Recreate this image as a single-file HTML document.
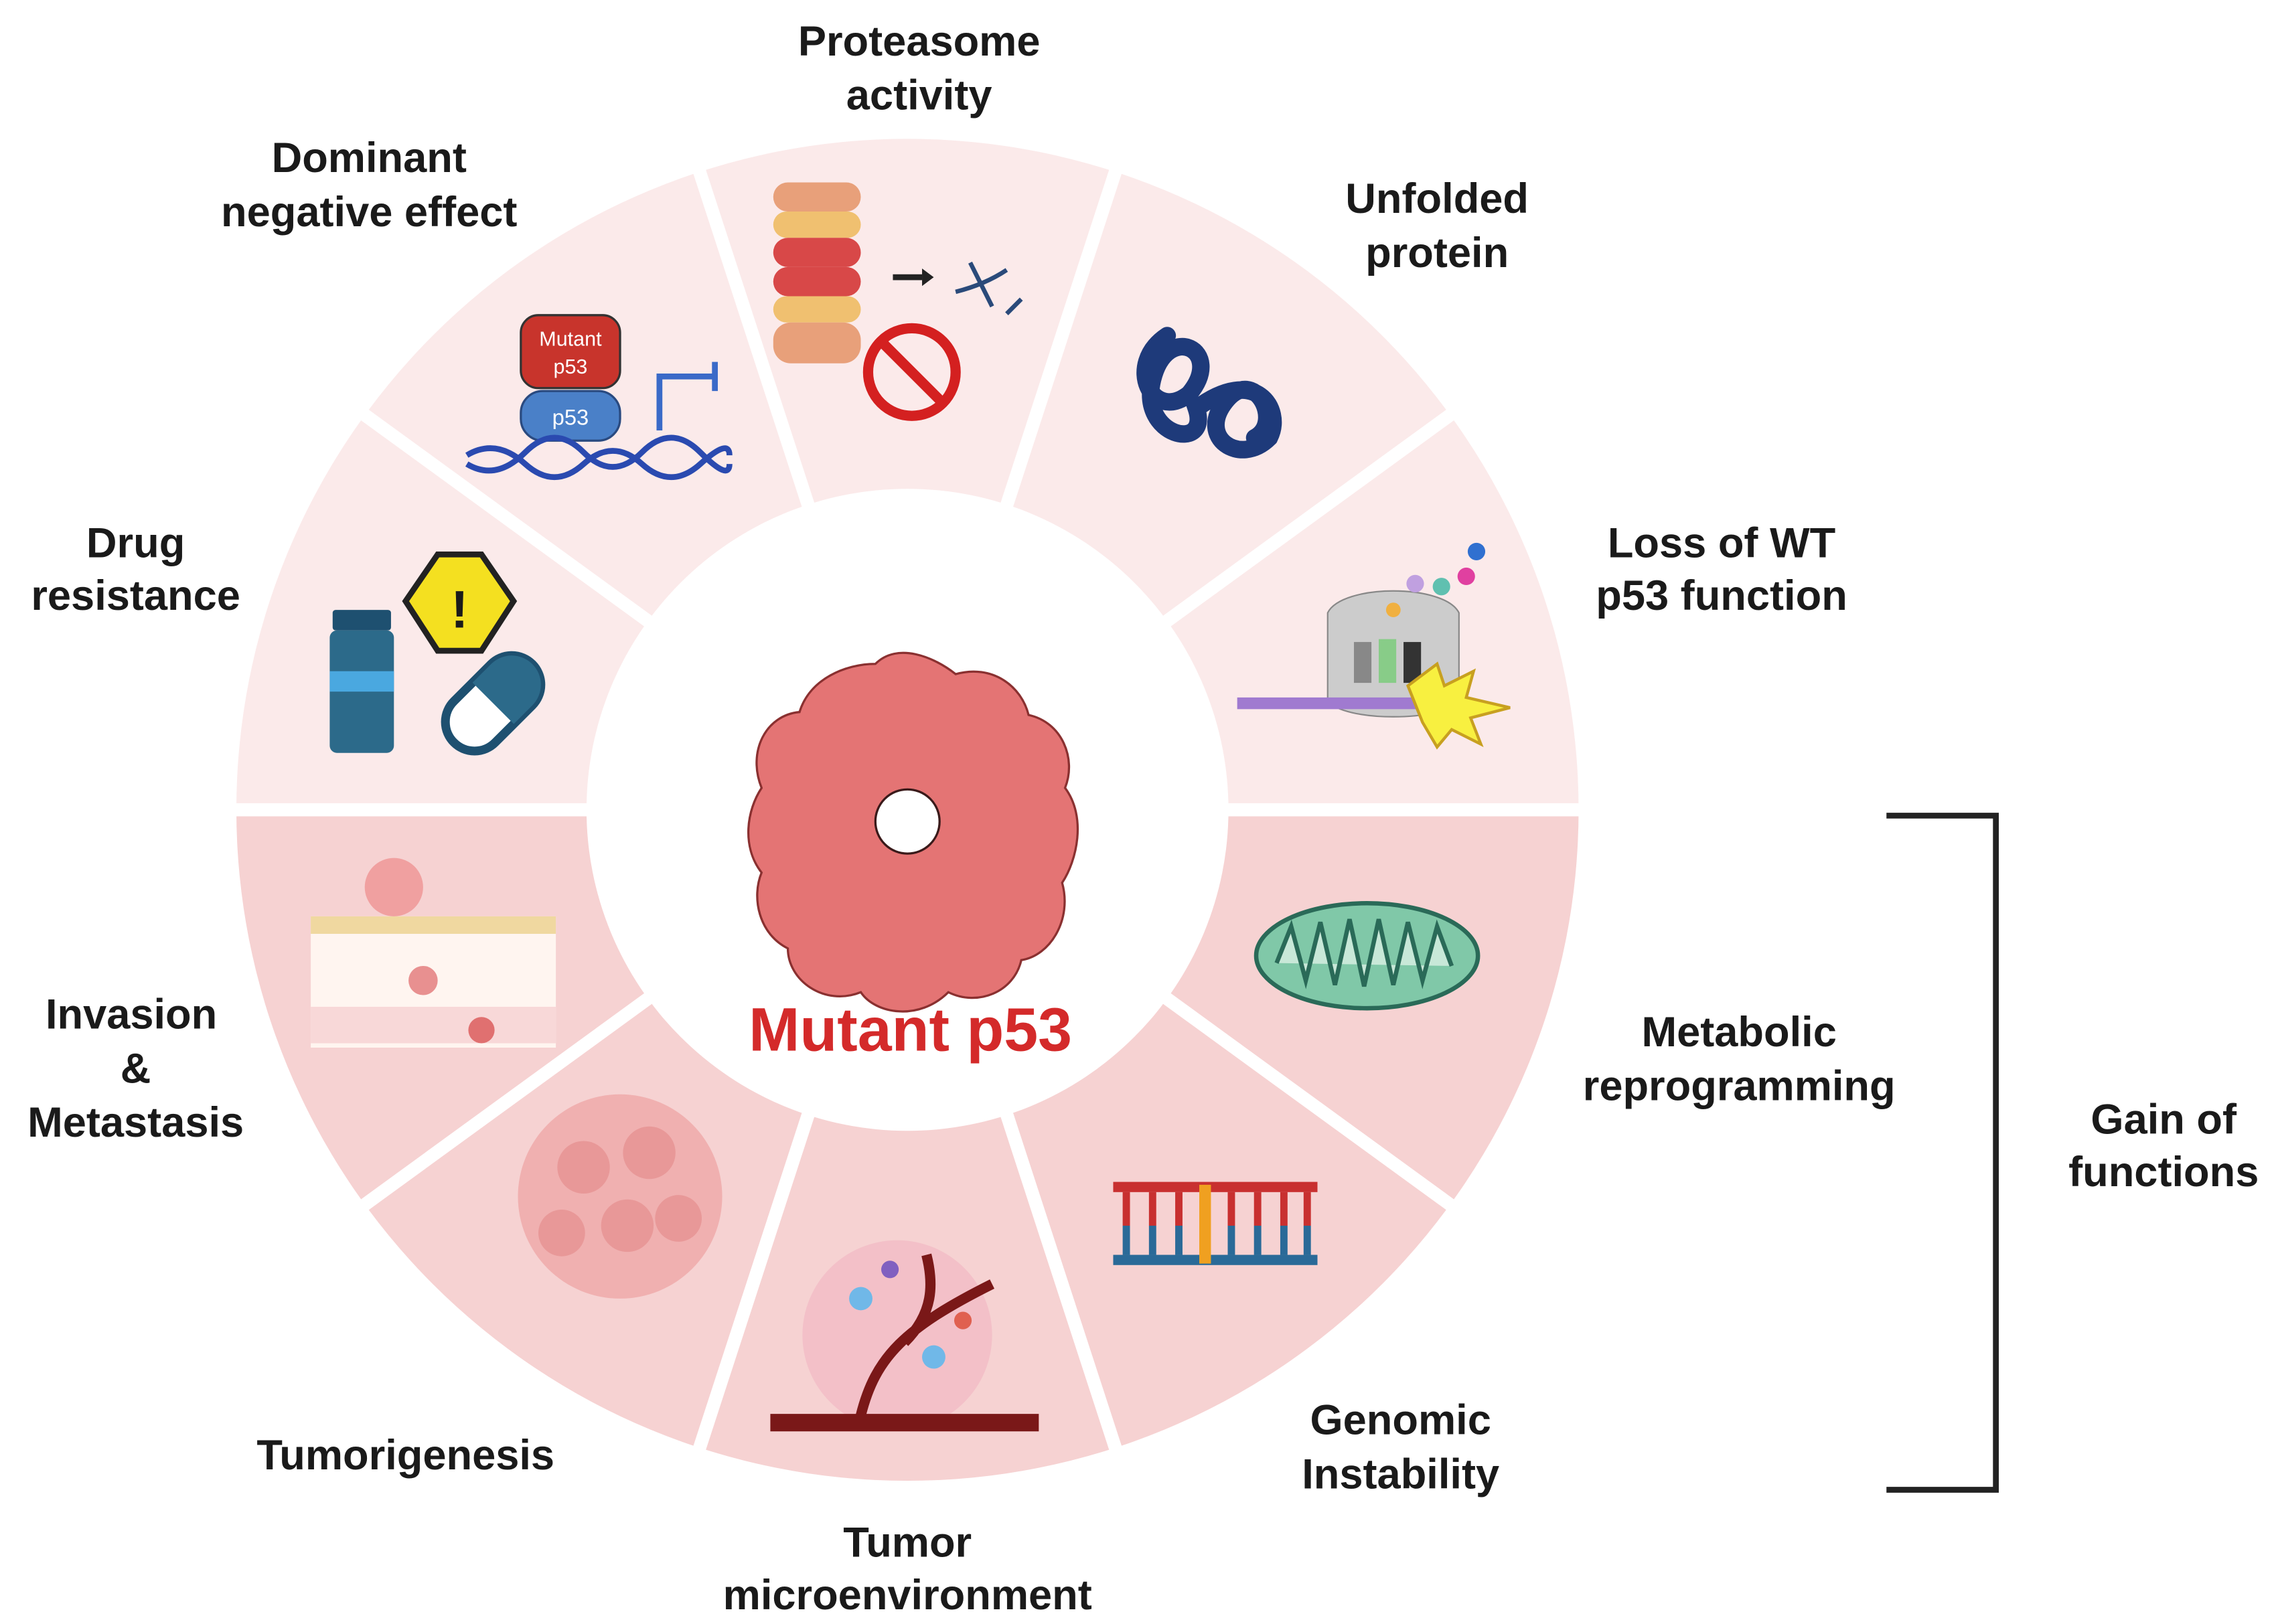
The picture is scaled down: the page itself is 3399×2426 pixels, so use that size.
<!DOCTYPE html>
<html><head><meta charset="utf-8"><style>
html,body{margin:0;padding:0;background:#fff;}
svg{display:block;}
text{font-family:"Liberation Sans",sans-serif;font-weight:bold;fill:#1a1a1a;text-anchor:middle;}
</style></head><body>
<svg width="3399" height="2426" viewBox="0 0 1560 1113" preserveAspectRatio="none" xmlns="http://www.w3.org/2000/svg">
<!-- ring -->
<path d="M162,555 A460,460 0 0 1 1082,555 Z" fill="#fbeaea"/>
<path d="M162,555 A460,460 0 0 0 1082,555 Z" fill="#f6d2d2"/>
<g stroke="#fff" stroke-width="9">
<line x1="622" y1="555" x2="1090" y2="555"/>
<line x1="622" y1="555" x2="1000" y2="830"/>
<line x1="622" y1="555" x2="767" y2="1000"/>
<line x1="622" y1="555" x2="477" y2="1000"/>
<line x1="622" y1="555" x2="244" y2="830"/>
<line x1="622" y1="555" x2="154" y2="555"/>
<line x1="622" y1="555" x2="244" y2="280"/>
<line x1="622" y1="555" x2="477" y2="110"/>
<line x1="622" y1="555" x2="767" y2="110"/>
<line x1="622" y1="555" x2="1000" y2="280"/>
</g>
<circle cx="622" cy="555" r="220" fill="#fff"/>
<!-- center blob -->
<g fill="#e47474" stroke="#8a3030" stroke-width="1.5">
<path d="M600,455 C615,440 640,450 655,462 C680,455 700,470 705,490 C728,495 738,520 730,540 C745,560 738,590 728,605 C735,630 720,655 700,658 C695,680 670,690 650,680 C630,700 600,695 590,680 C565,690 540,672 540,650 C520,640 515,615 522,598 C508,580 512,555 522,540 C512,515 525,490 548,488 C555,465 580,455 600,455 Z"/>
</g>
<circle cx="622" cy="563" r="22" fill="#fff" stroke="#3a1a1a" stroke-width="1.5"/>
<text x="624" y="720" style="font-size:42px;fill:#d42a2a">Mutant p53</text>
<!-- labels -->
<g style="font-size:29px">
<text x="630" y="38">Proteasome</text><text x="630" y="75">activity</text>
<text x="253" y="118">Dominant</text><text x="253" y="155">negative effect</text>
<text x="985" y="146">Unfolded</text><text x="985" y="183">protein</text>
<text x="93" y="382">Drug</text><text x="93" y="418">resistance</text>
<text x="1180" y="382">Loss of WT</text><text x="1180" y="418">p53 function</text>
<text x="90" y="705">Invasion</text><text x="93" y="742">&amp;</text><text x="93" y="779">Metastasis</text>
<text x="1192" y="717">Metabolic</text><text x="1192" y="754">reprogramming</text>
<text x="1483" y="777">Gain of</text><text x="1483" y="813">functions</text>
<text x="278" y="1007">Tumorigenesis</text>
<text x="960" y="983">Genomic</text><text x="960" y="1020">Instability</text>
<text x="622" y="1067">Tumor</text><text x="622" y="1103">microenvironment</text>
</g>
<!-- bracket -->
<path d="M1293,559 H1368 V1021 H1293" fill="none" stroke="#222" stroke-width="4"/>
<!-- proteasome -->
<g fill="#e8a07a">
<rect x="530" y="125" width="60" height="20" rx="10"/><rect x="530" y="145" width="60" height="18" rx="9" fill="#f0c070"/>
<rect x="530" y="163" width="60" height="20" rx="10" fill="#d84848"/><rect x="530" y="183" width="60" height="20" rx="10" fill="#d84848"/>
<rect x="530" y="203" width="60" height="18" rx="9" fill="#f0c070"/><rect x="530" y="221" width="60" height="28" rx="12"/>
</g>
<path d="M612,190 H632" stroke="#222" stroke-width="4"/><path d="M632,184 L640,190 L632,196Z" fill="#222"/>
<path d="M655,200 Q675,195 690,185 M665,180 L680,210 M690,215 L700,205" stroke="#2a4a7a" stroke-width="3" fill="none"/>
<circle cx="625" cy="255" r="30" fill="none" stroke="#d42020" stroke-width="7"/>
<line x1="604" y1="234" x2="646" y2="276" stroke="#d42020" stroke-width="7"/>
<!-- dominant negative -->
<rect x="357" y="216" width="68" height="50" rx="12" fill="#c8342c" stroke="#333" stroke-width="1.5"/>
<text x="391" y="237" style="font-size:14px;font-weight:normal;fill:#fff">Mutant</text>
<text x="391" y="256" style="font-size:14px;font-weight:normal;fill:#fff">p53</text>
<rect x="357" y="268" width="68" height="34" rx="15" fill="#4a80c8" stroke="#2a4a80" stroke-width="1.5"/>
<text x="391" y="291" style="font-size:15px;font-weight:normal;fill:#fff">p53</text>
<path d="M320,312 Q340,300 360,318 T400,318 T440,318 T480,318 T500,312" stroke="#2a4ab0" stroke-width="4" fill="none"/>
<path d="M320,318 Q340,330 360,310 T400,310 T440,310 T480,310 T500,318" stroke="#2a4ab0" stroke-width="4" fill="none"/>
<path d="M452,295 V258 H490 M490,248 V268" stroke="#3a6ac8" stroke-width="4" fill="none"/>
<!-- unfolded protein -->
<path d="M800,230 C770,250 790,290 815,270 C840,240 800,220 790,260 C780,300 830,310 820,280 C860,250 880,280 870,300 C850,320 820,300 840,275 C860,250 880,290 860,300" stroke="#1e3a7a" stroke-width="12" fill="none" stroke-linecap="round"/>
<!-- loss of WT -->
<path d="M910,420 C920,400 990,400 1000,420 L1000,480 C990,495 920,495 910,480Z" fill="#ccc" stroke="#888"/>
<rect x="928" y="440" width="12" height="28" fill="#888"/><rect x="945" y="438" width="12" height="30" fill="#8c8"/><rect x="962" y="440" width="12" height="28" fill="#333"/>
<rect x="848" y="478" width="130" height="8" fill="#a07ad0"/>
<path d="M965,470 L985,455 L990,470 L1010,460 L1005,478 L1035,485 L1008,492 L1015,510 L995,500 L985,512 L975,495Z" fill="#f8f040" stroke="#c8a020" stroke-width="2"/>
<circle cx="955" cy="418" r="5" fill="#f0b040"/><circle cx="970" cy="400" r="6" fill="#c0a0e0"/><circle cx="988" cy="402" r="6" fill="#60c0b0"/><circle cx="1005" cy="395" r="6" fill="#e040a0"/><circle cx="1012" cy="378" r="6" fill="#3070d0"/>
<!-- drug resistance -->
<rect x="228" y="418" width="40" height="14" rx="2" fill="#1e5070"/>
<rect x="226" y="432" width="44" height="84" rx="5" fill="#2c6a8a"/>
<rect x="226" y="460" width="44" height="14" fill="#4aa8e0"/>
<polygon points="300,380 330,380 352,412 330,446 300,446 278,412" fill="#f4e020" stroke="#222" stroke-width="4"/>
<text x="315" y="430" style="font-size:36px">!</text>
<g transform="rotate(-45 338 482)"><rect x="300" y="462" width="76" height="40" rx="20" fill="#fff" stroke="#1e5070" stroke-width="6"/><path d="M338,462 H356 A20,20 0 0 1 356,502 H338Z" fill="#2c6a8a"/></g>
<!-- invasion -->
<rect x="213" y="628" width="168" height="90" fill="#fff5f0"/>
<rect x="213" y="628" width="168" height="12" fill="#f0d8a0"/>
<rect x="213" y="690" width="168" height="25" fill="#f8d8d8"/>
<circle cx="270" cy="608" r="20" fill="#f0a0a0"/><circle cx="290" cy="672" r="10" fill="#e89090"/><circle cx="330" cy="706" r="9" fill="#e07070"/>
<!-- tumorigenesis -->
<circle cx="425" cy="820" r="70" fill="#f0b0b0"/>
<circle cx="400" cy="800" r="18" fill="#e89898"/><circle cx="445" cy="790" r="18" fill="#e89898"/><circle cx="430" cy="840" r="18" fill="#e89898"/><circle cx="385" cy="845" r="16" fill="#e89898"/><circle cx="465" cy="835" r="16" fill="#e89898"/>
<!-- TME -->
<circle cx="615" cy="915" r="65" fill="#f3c0c8"/>
<path d="M528,975 H712" stroke="#7a1818" stroke-width="12"/>
<path d="M590,970 C600,930 620,910 680,880 M620,920 C640,900 640,880 635,860" stroke="#7a1818" stroke-width="7" fill="none"/>
<circle cx="590" cy="890" r="8" fill="#70b8e8"/><circle cx="640" cy="930" r="8" fill="#70b8e8"/><circle cx="610" cy="870" r="6" fill="#8060c0"/><circle cx="660" cy="905" r="6" fill="#e06050"/>
<!-- genomic instability -->
<rect x="763" y="810" width="140" height="7" fill="#c83030"/>
<rect x="763" y="860" width="140" height="7" fill="#2a6a98"/>
<g stroke="#c83030" stroke-width="5"><line x1="772" y1="817" x2="772" y2="840"/><line x1="790" y1="817" x2="790" y2="840"/><line x1="808" y1="817" x2="808" y2="840"/><line x1="844" y1="817" x2="844" y2="840"/><line x1="862" y1="817" x2="862" y2="840"/><line x1="880" y1="817" x2="880" y2="840"/><line x1="896" y1="817" x2="896" y2="840"/></g>
<g stroke="#2a6a98" stroke-width="5"><line x1="772" y1="840" x2="772" y2="860"/><line x1="790" y1="840" x2="790" y2="860"/><line x1="808" y1="840" x2="808" y2="860"/><line x1="844" y1="840" x2="844" y2="860"/><line x1="862" y1="840" x2="862" y2="860"/><line x1="880" y1="840" x2="880" y2="860"/><line x1="896" y1="840" x2="896" y2="860"/></g>
<line x1="826" y1="812" x2="826" y2="866" stroke="#f0a020" stroke-width="8"/>
<!-- mitochondrion -->
<ellipse cx="937" cy="655" rx="76" ry="36" fill="#80c8a8" stroke="#2a6a58" stroke-width="3"/>
<path d="M875,660 L885,635 L895,672 L905,632 L915,675 L925,630 L935,676 L945,630 L955,675 L965,632 L975,672 L985,635 L995,662" stroke="#2a6a58" stroke-width="3" fill="#c8e8d8"/>
</svg>
</body></html>
